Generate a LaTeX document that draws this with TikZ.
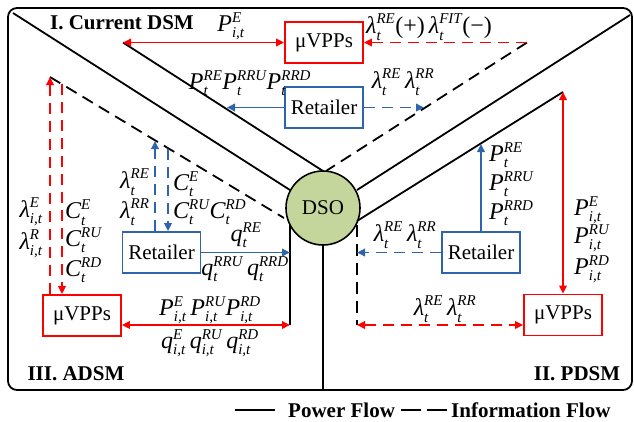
\documentclass[tikz,border=0pt]{standalone}
\usepackage{fontspec}
\setmainfont{Liberation Serif}
\usetikzlibrary{arrows.meta}
\definecolor{myred}{RGB}{255,0,0}
\definecolor{myblue}{RGB}{46,100,172}
\definecolor{dsogreen}{RGB}{196,214,155}
\newcommand\scf{\fontsize{15}{15}\selectfont\itshape}
\newcommand\sv[3]{$\hbox{\itshape #1}^{\hbox{\scf #2}}_{\hbox{\scf #3}}$}
\tikzset{
  box/.style={draw, line width=1.8pt, minimum width=78pt, minimum height=41pt, inner sep=0pt, font=\fontsize{21}{21}\selectfont},
  redbox/.style={box, draw=myred},
  bluebox/.style={box, draw=myblue},
  dso/.style={circle, draw, line width=1.6pt, fill=dsogreen, minimum size=74pt, inner sep=0pt, font=\fontsize{21}{21}\selectfont},
  pline/.style={line width=1.8pt},
  iline/.style={line width=1.8pt, dash pattern=on 12pt off 7pt},
  rarr/.style={myred, line width=1.8pt},
  rdash/.style={myred, line width=1.8pt, dash pattern=on 11pt off 7pt},
  barr/.style={myblue, line width=1.8pt},
  bdash/.style={myblue, line width=1.8pt, dash pattern=on 11pt off 7pt},
  lab/.style={font=\fontsize{24}{26}\selectfont, inner sep=0pt},
  head/.style={font=\fontsize{21}{21}\selectfont\bfseries, inner sep=0pt},
  >={Triangle[length=8pt,width=7.5pt]}
}
\begin{document}
\begin{tikzpicture}[x=1pt,y=-1pt]
\useasboundingbox (0,0) rectangle (634,421);
% frame
\draw[line width=1.8pt, rounded corners=9pt] (8,8) rectangle (632,390);
% boxes
\node[redbox] (vppI) at (324,42.5) {μVPPs};
\node[bluebox] (retI) at (324,107.5) {Retailer};
\node[bluebox] (retIII) at (161.5,252.5) {Retailer};
\node[redbox] (vppIII) at (82,315.5) {μVPPs};
\node[bluebox] (retII) at (481,252.5) {Retailer};
\node[redbox] (vppII) at (563,315) {μVPPs};
\node[dso] (dso) at (323,208) {DSO};
% coordinates
\coordinate (o1a) at (13,13); \coordinate (o1b) at (290,190);
\coordinate (i1a) at (123,42.5); \coordinate (i1b) at (323,171);
\coordinate (o2a) at (630,15); \coordinate (o2b) at (357,190);
\coordinate (i2a) at (563,92); \coordinate (i2b) at (357,221);
\coordinate (v3a) at (290,225); \coordinate (v3b) at (290,325);
\coordinate (vba) at (323,245); \coordinate (vbb) at (323,390);
\coordinate (d1a) at (527,42.5); \coordinate (d1b) at (326,171);
\coordinate (d3a) at (50,77); \coordinate (d3b) at (284,218);
\coordinate (v2a) at (357,225); \coordinate (v2b) at (357,325);
% power lines
\draw[pline] (o1a) -- (o1b);
\draw[pline] (i1a) -- (i1b);
\draw[pline] (o2a) -- (o2b);
\draw[pline] (i2a) -- (i2b);
\draw[pline] (v3a) -- (v3b);
\draw[pline] (vba) -- (vbb);
% information lines
\draw[iline] (d1a) -- (d1b);
\draw[iline] (d3a) -- (d3b);
\draw[iline] (v2a) -- (v2b);
% region I arrows
\coordinate (b1l) at (227,107.5); \coordinate (b1r) at (424,107.5);
\draw[rarr,<->] (i1a) -- (vppI.west);
\draw[rdash,->] (d1a) -- (vppI.east);
\draw[barr,->] (retI.west) -- (b1l);
\draw[bdash,->] (retI.east) -- (b1r);
% region III arrows
\coordinate (c62) at (62,84);
\coordinate (b155) at (155,141); \coordinate (b168) at (168,149);
\coordinate (b3) at (290,252.5);
\draw[rdash,->] (d3a |- vppIII.north) -- (d3a);
\draw[rdash,->] (c62) -- (c62 |- vppIII.north);
\draw[bdash,->] (b155 |- retIII.north) -- (b155);
\draw[bdash,->] (b168) -- (b168 |- retIII.north);
\draw[barr,->] (retIII.east) -- (b3);
\draw[rarr,<->] (v3b -| vppIII.east) -- (v3b);
% region II arrows
\coordinate (b2) at (481,144);
\draw[rarr,<->] (i2a) -- (i2a |- vppII.north);
\draw[barr,->] (retII.north) -- (b2);
\draw[bdash,->] (retII.west) -- (v2a |- retII.west);
\draw[rdash,<->] (v2b) -- (v2b -| vppII.west);
% region I labels
\node[head] (hI) at (122,23) {I. Current DSM};
\node[lab] (l1) at (231,26) {\sv{P}{E}{i,t}};
\node[lab] (l2) at (429,27) {\sv{λ}{RE}{t}(+)\,\sv{λ}{FIT}{t}(−)};
\node[lab] (l3) at (250,83) {\sv{P}{RE}{t}\sv{P}{RRU}{t}\sv{P}{RRD}{t}};
\node[lab] (l4) at (403,82) {\sv{λ}{RE}{t}\,\sv{λ}{RR}{t}};
% region III labels
\node[head] (hIII) at (76,374) {III. ADSM};
\node[lab] (l5) at (31,212) {\sv{λ}{E}{i,t}};
\node[lab] (l6) at (31,244) {\sv{λ}{R}{i,t}};
\node[lab,anchor=west] (l7) at (65,212.5) {\sv{C}{E}{t}};
\node[lab,anchor=west] (l8) at (65,240) {\sv{C}{RU}{t}};
\node[lab,anchor=west] (l9) at (65,270) {\sv{C}{RD}{t}};
\node[lab,anchor=west] (l10) at (120,182) {\sv{λ}{RE}{t}};
\node[lab,anchor=west] (l11) at (120,212) {\sv{λ}{RR}{t}};
\node[lab,anchor=west] (l12) at (173,184) {\sv{C}{E}{t}};
\node[lab,anchor=west] (l13) at (173,212) {\sv{C}{RU}{t}\sv{C}{RD}{t}};
\node[lab] (l14) at (246,235) {\sv{q}{RE}{t}};
\node[lab] (l15) at (245,269) {\sv{q}{RRU}{t}\,\sv{q}{RRD}{t}};
\node[lab] (l16) at (210,310) {\sv{P}{E}{i,t}\,\sv{P}{RU}{i,t}\sv{P}{RD}{i,t}};
\node[lab] (l17) at (210,343) {\sv{q}{E}{i,t}\,\sv{q}{RU}{i,t}\,\sv{q}{RD}{i,t}};
% region II labels
\node[head] (hII) at (577,374) {II. PDSM};
\node[lab,anchor=west] (l18) at (489,155) {\sv{P}{RE}{t}};
\node[lab,anchor=west] (l19) at (489,184) {\sv{P}{RRU}{t}};
\node[lab,anchor=west] (l20) at (489,213) {\sv{P}{RRD}{t}};
\node[lab,anchor=west] (l21) at (574,210) {\sv{P}{E}{i,t}};
\node[lab,anchor=west] (l22) at (574,238) {\sv{P}{RU}{i,t}};
\node[lab,anchor=west] (l23) at (574,269) {\sv{P}{RD}{i,t}};
\node[lab] (l24) at (405,235) {\sv{λ}{RE}{t}\,\sv{λ}{RR}{t}};
\node[lab] (l25) at (445,309) {\sv{λ}{RE}{t}\,\sv{λ}{RR}{t}};
% legend
\coordinate (lg1) at (235,410); \coordinate (lg2) at (275,410);
\coordinate (lg3) at (401,410); \coordinate (lg4) at (421,410);
\coordinate (lg5) at (427,410); \coordinate (lg6) at (447,410);
\draw[line width=1.8pt] (lg1) -- (lg2);
\draw[line width=1.8pt] (lg3) -- (lg4);
\draw[line width=1.8pt] (lg5) -- (lg6);
\node[head,anchor=west] (pf) at (288,410) {Power Flow};
\node[head,anchor=west] (inf) at (451,410) {Information Flow};
\end{tikzpicture}
\end{document}
